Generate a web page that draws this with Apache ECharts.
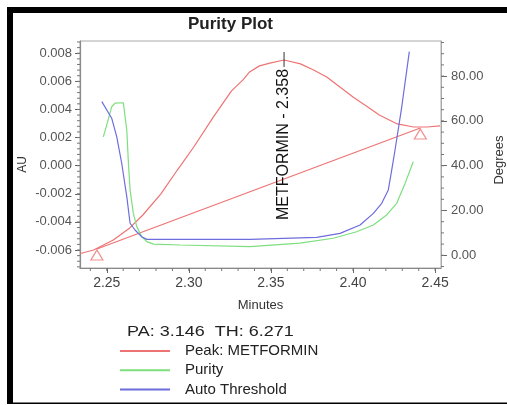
<!DOCTYPE html>
<html>
<head>
<meta charset="utf-8">
<script src="https://cdn.jsdelivr.net/npm/echarts@6/dist/echarts.min.js"></script>
<style>html,body{margin:0;padding:0;background:#fff}#c{width:507px;height:405px}</style>
</head>
<body>
<div id="c"></div>
<script>
// ---- tick labels ----
const xTickLabels = [2.25, 2.30, 2.35, 2.40, 2.45];
const auTickLabels = [-0.006, -0.004, -0.002, 0.000, 0.002, 0.004, 0.006, 0.008];
const degTickLabels = [0, 20, 40, 60, 80];

// ---- Peak: METFORMIN (chromatogram, AU) ----
const peakTime = [2.234, 2.242, 2.254, 2.264, 2.272, 2.283, 2.293, 2.303, 2.315, 2.326, 2.333, 2.337, 2.343, 2.350, 2.358, 2.368, 2.376, 2.384, 2.392, 2.400, 2.409, 2.416, 2.427, 2.437, 2.445, 2.453];
const peakAU   = [-0.00625, -0.00600, -0.00529, -0.00443, -0.00351, -0.00201, -0.00031, 0.00133, 0.00347, 0.00532, 0.00610, 0.00667, 0.00710, 0.00731, 0.00752, 0.00724, 0.00681, 0.00631, 0.00560, 0.00489, 0.00418, 0.00361, 0.00297, 0.00275, 0.00275, 0.00283];

// ---- baseline / peak start & end markers ----
const baseTime = [2.244, 2.441];
const baseAU   = [-0.00593, 0.00268];

// ---- Purity (degrees) ----
const purityTime = [2.2479, 2.2500, 2.2530, 2.2551, 2.2601, 2.2611, 2.2622, 2.2632, 2.2642, 2.2662, 2.2683, 2.2713, 2.2744, 2.2784, 2.2946, 2.3373, 2.3677, 2.3880, 2.4022, 2.4124, 2.4205, 2.4266, 2.4317, 2.4367];
const purityDeg  = [52.9, 58.2, 66.3, 67.9, 68.1, 67.9, 55.9, 41.1, 29.2, 18.7, 12.8, 8.3, 6.1, 5.0, 4.6, 3.9, 5.4, 7.6, 10.5, 13.5, 18.0, 23.2, 32.1, 41.8];

// ---- Auto Threshold (degrees) ----
const thresholdTime = [2.2470, 2.2530, 2.2561, 2.2591, 2.2622, 2.2642, 2.2672, 2.2713, 2.2744, 2.3373, 2.3779, 2.3921, 2.4043, 2.4124, 2.4175, 2.4215, 2.4236, 2.4256, 2.4297, 2.4343];
const thresholdDeg  = [68.6, 61.2, 52.9, 41.1, 26.2, 14.3, 11.3, 8.3, 7.1, 7.1, 8.0, 9.8, 13.5, 18.7, 23.2, 29.2, 38.1, 47.0, 66.3, 90.9];

const peakName = 'METFORMIN';
const peakRT = 2.358;
const paValue = '3.146';
const thValue = '6.271';

// axis extents
const X_MIN = 2.2337, X_MAX = 2.4536;
const AU_MIN = -0.00728, AU_MAX = 0.00887;
const DEG_MIN = -5.67, DEG_MAX = 95.67;

function steps(a, b, s) { const out = []; for (let v = a; v <= b + s / 1000; v += s) out.push(+v.toFixed(6)); return out; }
const xMinor = steps(2.24, 2.45, 0.01);
const auMinor = steps(-0.0072, 0.0088, 0.0004);
const degMinor = steps(-5, 95, 5);

const RED = '#ee7373', GREEN = '#7ddf7d', BLUE = '#6d6ddd';
const FONT = 'Liberation Sans, Arial, sans-serif';
const AX = '#8a8a8a';
const MINOR = '#777';

const zip = (a, b) => a.map((v, i) => [v, b[i]]);

const chart = echarts.init(document.getElementById('c'), null, { renderer: 'canvas' });

// minor tick marks drawn through the axes' own scales
function tickSeries(name, yIdx, data, dx, dy) {
  return {
    name: name, type: 'custom', xAxisIndex: 0, yAxisIndex: yIdx, clip: false, silent: true, z: 1,
    data: data, encode: { x: 0, y: 1 },
    renderItem: function (params, api) {
      const pt = api.coord([api.value(0), api.value(1)]);
      return { type: 'line', shape: { x1: pt[0], y1: pt[1], x2: pt[0] + dx, y2: pt[1] + dy }, style: { stroke: MINOR, lineWidth: 1 } };
    }
  };
}

chart.setOption({
  animation: false,
  backgroundColor: '#fff',
  textStyle: { fontFamily: FONT },
  title: {
    text: 'Purity Plot', left: 188, top: 16, padding: 0,
    textStyle: { fontFamily: FONT, fontSize: 17, fontWeight: 'bold', color: '#222' }
  },
  tooltip: { show: false },
  grid: { left: 80, top: 41, width: 361, height: 227, show: true, borderColor: '#aaa', borderWidth: 1, backgroundColor: '#fff', containLabel: false, outerBoundsMode: 'none' },
  legend: {
    data: ['Peak: ' + peakName, 'Purity', 'Auto Threshold'],
    orient: 'vertical', left: 120, top: 343, padding: 0, itemWidth: 50, itemHeight: 2, itemGap: 3.3,
    icon: 'rect', selectedMode: false,
    textStyle: { fontFamily: FONT, fontSize: 15, color: '#222', lineHeight: 16, padding: [0, 0, 0, 10] }
  },
  xAxis: [
    {
      type: 'value', position: 'bottom', min: X_MIN, max: X_MAX,
      name: 'Minutes', nameLocation: 'middle', nameGap: 31, nameMoveOverlap: false,
      nameTextStyle: { fontFamily: FONT, fontSize: 13, color: '#333' },
      axisLine: { show: true, onZero: false, lineStyle: { color: AX, width: 1.2 } },
      axisTick: { show: true, customValues: xTickLabels, length: 5, lineStyle: { color: '#666' } },
      axisLabel: { show: true, customValues: xTickLabels, formatter: v => v.toFixed(2), fontSize: 14, color: '#444', margin: 8 },
      splitLine: { show: false }
    }
  ],
  yAxis: [
    {
      type: 'value', position: 'left', min: AU_MIN, max: AU_MAX,
      name: 'AU', nameLocation: 'middle', nameGap: 51, nameRotate: 90, nameMoveOverlap: false,
      nameTextStyle: { fontFamily: FONT, fontSize: 12, color: '#333', padding: [0, 20, 0, 0] },
      axisLine: { show: true, onZero: false, lineStyle: { color: AX, width: 1.2 } },
      axisTick: { show: true, customValues: auTickLabels, length: 5, lineStyle: { color: '#666' } },
      axisLabel: { show: true, customValues: auTickLabels, formatter: v => v.toFixed(3), fontSize: 13, color: '#555', margin: 8 },
      splitLine: { show: false }
    },
    {
      type: 'value', position: 'right', min: DEG_MIN, max: DEG_MAX,
      name: 'Degrees', nameLocation: 'middle', nameGap: 52, nameRotate: 90, nameMoveOverlap: false,
      nameTextStyle: { fontFamily: FONT, fontSize: 13, color: '#333', padding: [0, 11, 0, 0] },
      axisLine: { show: true, onZero: false, lineStyle: { color: '#aaa', width: 1 } },
      axisTick: { show: true, customValues: degTickLabels, length: 6, lineStyle: { color: '#666' } },
      axisLabel: { show: true, customValues: degTickLabels, formatter: v => v.toFixed(2), fontSize: 13, color: '#555', margin: 10 },
      splitLine: { show: false }
    }
  ],
  series: [
    tickSeries('xMinorTicks', 0, xMinor.map(v => [v, AU_MIN]), 0, 3),
    tickSeries('auMinorTicks', 0, auMinor.map(v => [X_MIN, v]), -3, 0),
    tickSeries('degMinorTicks', 1, degMinor.map(v => [X_MAX, v]), 3, 0),
    {
      name: 'Peak: ' + peakName, type: 'line', xAxisIndex: 0, yAxisIndex: 0,
      data: zip(peakTime, peakAU), showSymbol: false, symbol: 'none', smooth: false,
      itemStyle: { color: RED }, lineStyle: { color: RED, width: 1.2 }, z: 3
    },
    {
      name: 'Baseline', type: 'line', xAxisIndex: 0, yAxisIndex: 0,
      data: zip(baseTime, baseAU), showSymbol: false, symbol: 'none',
      itemStyle: { color: RED }, lineStyle: { color: RED, width: 1.2 }, z: 3
    },
    {
      name: 'Peak markers', type: 'scatter', xAxisIndex: 0, yAxisIndex: 0,
      data: zip(baseTime, baseAU), symbol: 'triangle', symbolSize: [12, 10], symbolOffset: [0, 6],
      itemStyle: { color: '#fff', borderColor: RED, borderWidth: 1.2 }, z: 4, silent: true
    },
    {
      name: 'Purity', type: 'line', xAxisIndex: 0, yAxisIndex: 1,
      data: zip(purityTime, purityDeg), showSymbol: false, symbol: 'none',
      itemStyle: { color: GREEN }, lineStyle: { color: GREEN, width: 1.2 }, z: 3
    },
    {
      name: 'Auto Threshold', type: 'line', xAxisIndex: 0, yAxisIndex: 1,
      data: zip(thresholdTime, thresholdDeg), showSymbol: false, symbol: 'none',
      itemStyle: { color: BLUE }, lineStyle: { color: BLUE, width: 1.2 }, z: 3
    }
  ],
  graphic: [
    { type: 'rect', id: 'frameTop', shape: { x: 7, y: 7, width: 500, height: 6 }, style: { fill: '#000' }, z: 100 },
    { type: 'rect', id: 'frameLeft', shape: { x: 7, y: 7, width: 6, height: 397 }, style: { fill: '#000' }, z: 100 },
    { type: 'rect', id: 'frameBottom', shape: { x: 7, y: 402.5, width: 500, height: 1.5 }, style: { fill: '#000' }, z: 100 },
    {
      type: 'text', id: 'paText', x: 127, y: 331.7, scaleX: 1.2, z: 100,
      style: { text: 'PA: ' + paValue + '  TH: ' + thValue, fontFamily: FONT, fontSize: 15, fill: '#222', align: 'left', verticalAlign: 'middle' }
    }
  ]
});

// peak annotation, positioned through the library's own scales
const iMax = peakTime.indexOf(peakRT);
const p = chart.convertToPixel({ xAxisIndex: 0, yAxisIndex: 0 }, [peakRT, peakAU[iMax]]);
chart.setOption({
  graphic: [
    { type: 'line', id: 'peakTick', z: 100, shape: { x1: p[0], y1: p[1] - 8, x2: p[0], y2: p[1] + 7 }, style: { stroke: '#333', lineWidth: 1 } },
    {
      type: 'text', id: 'peakLabel', z: 100, x: p[0], y: p[1] + 9, rotation: Math.PI / 2,
      style: { text: peakName + ' - ' + peakRT.toFixed(3), fontFamily: FONT, fontSize: 16, fill: '#111', align: 'right', verticalAlign: 'middle' }
    }
  ]
});
</script>
</body>
</html>
